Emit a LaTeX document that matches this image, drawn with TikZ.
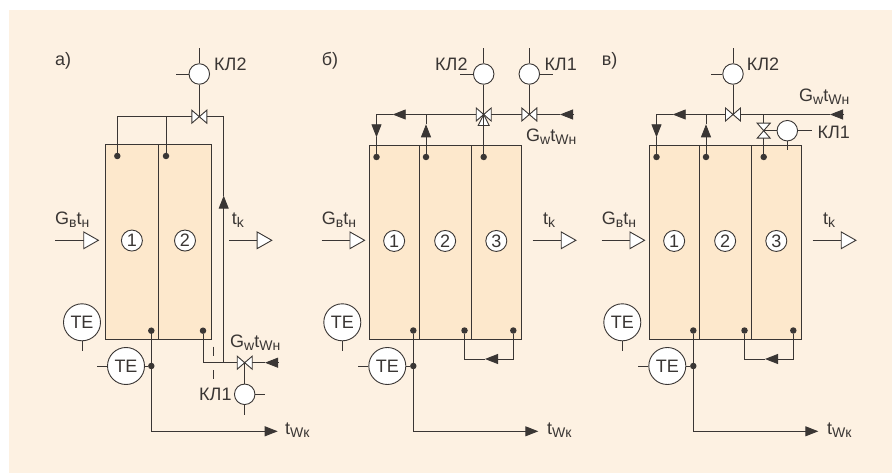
\documentclass[tikz,border=0pt]{standalone}
\usepackage{fontspec}
\setmainfont{Liberation Sans}
\usetikzlibrary{arrows.meta,positioning}
\definecolor{paper}{HTML}{FDF1E2}
\definecolor{cellfill}{HTML}{FDE8CC}
\definecolor{ink}{HTML}{3A3634}
\newcommand{\lowtext}[1]{\raisebox{-2.8pt}{\fontsize{14}{14}\selectfont #1}}
\tikzset{
 pics/valveh/.style={code={\draw[pipe,fill=white](-7.5,-6.5)--(7.5,6.5)--(7.5,-6.5)--(-7.5,6.5)--cycle;}},
 pics/valvev/.style={code={\draw[pipe,fill=white](-6.5,-7.5)--(6.5,7.5)--(-6.5,7.5)--(6.5,-7.5)--cycle;}},
 pics/valvet/.style={code={\draw[pipe,fill=white](0,0)--(5.5,11)--(-5.5,11)--cycle;}}}
\begin{document}
\begin{tikzpicture}[x=1pt,y=-1pt,font=\fontsize{18}{20}\selectfont,text=ink,
 pipe/.style={draw=ink,line width=0.9pt},
 flow/.style={pipe,-{Triangle[length=13pt,width=10pt,fill=ink]}},
 hollow/.style={pipe,-{Triangle[open,length=16pt,width=18pt,fill=white]}},
 cell/.style={draw=ink,line width=0.9pt,fill=cellfill,minimum height=194.5pt,anchor=north west,inner sep=0,outer sep=0},
 num/.style={draw=ink,line width=0.9pt,fill=white,circle,minimum size=21pt,inner sep=0,font=\fontsize{18}{18}\selectfont},
 gauge/.style={draw=ink,line width=0.9pt,fill=white,circle,minimum size=37pt,inner sep=0},
 drive/.style={draw=ink,line width=0.9pt,fill=white,circle,minimum size=20.5pt,inner sep=0},
 dot/.style={fill=ink,circle,minimum size=6.5pt,inner sep=0},
 lbl/.style={anchor=base west,inner sep=0}]
\useasboundingbox (0,0) rectangle (892,473);
\fill[paper] (9,10.5) rectangle (892,473);
% a
\node[lbl] (atitle) at (55,65.5) {а)};
\node[cell,minimum width=52.8pt] (a1) at (105.5,144.8) {};
\node[cell,minimum width=53.4pt,right=0pt of a1] (a2) {};
\node[num] (an1) at ([yshift=1.5pt]a1.center) {1};
\node[num] (an2) at ([yshift=1.5pt]a2.center) {2};
\node[dot] (ad1) at (117.3,156) {};
\node[dot] (ad2) at (166,156) {};
\node[dot] (ad3) at (151.3,330.7) {};
\node[dot] (ad4) at (203,330.7) {};
\node[dot] (ad5) at (151.3,366) {};
\coordinate (avt) at (199.3,116.7);
\coordinate (avb) at (244.7,362.7);
\coordinate (acr) at (223.7,116.7);
\coordinate (ajn) at (223.7,362.7);
\coordinate (atp) at (223.7,195.7);
\coordinate (atl) at (278.3,362.7);
\coordinate (atr) at (265,362.7);
\coordinate (aou) at (277.7,431.3);
\draw[pipe] (ad1)|-(avt);\draw[pipe] (ad2)|-(avt);
\draw[pipe] (avt)--(acr)--(atp);\draw[flow] (ajn)--(atp);
\draw[pipe] (ad4)|-(avb);\draw[pipe] (avb)--(atr);\draw[flow] (atl)--(atr);
\draw[flow] (ad3)|-(aou);
\pic at (avt) {valveh};\pic at (avb) {valveh};
\node[drive] (ak2) at (199.3,74) {};
\node[drive] (ak1) at (244.7,394.3) {};
\draw[pipe] (ak2)--(avt);\draw[pipe] (ak1)--(avb);
\draw[pipe] (ak2.north)--++(0,-15);\draw[pipe] (ak2.west)--++(-13,0);
\draw[pipe] (ak1.south)--++(0,9.5);\draw[pipe] (ak1.east)--++(10,0);
\node[lbl] (ak2t) at (214,71) {КЛ2};
\node[lbl] (ak1t) at (199,400) {КЛ1};
\coordinate (ada) at (213.3,346.7);\coordinate (adb) at (213.3,379);
\draw[pipe,dash pattern=on 9pt off 14.3pt] (ada)--(adb);
\node[gauge] (ate1) at (82,322.3) {TE};
\node[gauge] (ate2) at (126,366) {TE};
\draw[pipe] (ate1.south)--++(0,10);
\draw[pipe] (ate2.west)--++(-10,0);\draw[pipe] (ate2)--(ad5);
\coordinate (ain) at (55,240.3);\coordinate (aiu) at (99.3,240.3);
\coordinate (aot) at (229,240.3);\coordinate (aop) at (272.7,240.3);
\draw[hollow] (ain)--(aiu);\draw[hollow] (aot)--(aop);
\node[lbl] (agb) at (55,224.3) {G\lowtext{в}t\lowtext{н}};
\node[lbl] (atk) at (231.7,225) {t\lowtext{k}};
\node[lbl] (agw) at (230,347.7) {G\lowtext{w}t\lowtext{Wн}};
\node[lbl] (atw) at (285,434.5) {t\lowtext{Wк}};
% b and c
\foreach \p/\dx/\name in {b/0/б,c/280/в}{
\begin{scope}[xshift=\dx pt]
\node[lbl] (\p-title) at (321.7,65.5) {\name)};
\node[cell,minimum width=49.7pt] (\p1) at (369.3,145) {};
\node[cell,minimum width=52.3pt,right=0pt of \p1] (\p2) {};
\node[cell,minimum width=50pt,right=0pt of \p2] (\p3) {};
\node[num] (\p-n1) at ([yshift=1.3pt]\p1.center) {1};
\node[num] (\p-n2) at ([yshift=1.3pt]\p2.center) {2};
\node[num] (\p-n3) at ([yshift=1.3pt]\p3.center) {3};
\node[dot] (\p-d1) at (376.5,157) {};
\node[dot] (\p-d2) at (426,157) {};
\node[dot] (\p-d3) at (483.7,157) {};
\node[dot] (\p-d4) at (413.3,330.5) {};
\node[dot] (\p-d5) at (464.5,330.5) {};
\node[dot] (\p-d6) at (513.3,330.5) {};
\node[dot] (\p-d7) at (413.3,366) {};
\coordinate (\p-top) at (376.5,114.5);
\coordinate (\p-jn) at (426,114.5);
\coordinate (\p-ta) at (392.7,114.5);
\coordinate (\p-tb) at (405.7,114.5);
\coordinate (\p-da) at (376.5,124.3);
\coordinate (\p-db) at (376.5,137.3);
\coordinate (\p-ua) at (426,137.3);
\coordinate (\p-ub) at (426,124.3);
\coordinate (\p-ra) at (513.3,359);
\coordinate (\p-rb) at (464.5,359);
\coordinate (\p-rc) at (498,359);
\coordinate (\p-rd) at (485,359);
\coordinate (\p-ou) at (538.3,431.3);
\draw[flow] (\p-tb)--(\p-ta);\draw[pipe] (\p-ta)--(\p-top)--(\p-da);\draw[flow] (\p-da)--(\p-db);
\draw[pipe] (\p-db)--(\p-d1);
\draw[flow] (\p-d2)--(\p-ub);\draw[pipe] (\p-ub)--(\p-jn);
\draw[pipe] (\p-d6)--(\p-ra)--(\p-rc);\draw[flow] (\p-rc)--(\p-rd);\draw[pipe] (\p-rd)--(\p-rb)--(\p-d5);
\draw[flow] (\p-d4)|-(\p-ou);
\node[gauge] (\p-te1) at (342.3,322.3) {TE};
\node[gauge] (\p-te2) at (387.3,366) {TE};
\draw[pipe] (\p-te1.south)--++(0,10);
\draw[pipe] (\p-te2.west)--++(-10.5,0);\draw[pipe] (\p-te2)--(\p-d7);
\coordinate (\p-in) at (321.7,240.3);\coordinate (\p-iu) at (365.5,240.3);
\coordinate (\p-ot) at (532.5,240.3);\coordinate (\p-op) at (576.8,240.3);
\draw[hollow] (\p-in)--(\p-iu);\draw[hollow] (\p-ot)--(\p-op);
\node[lbl] (\p-gb) at (321.7,224.3) {G\lowtext{в}t\lowtext{н}};
\node[lbl] (\p-tk) at (543,225) {t\lowtext{k}};
\node[lbl] (\p-tw) at (547,434.3) {t\lowtext{Wк}};
\end{scope}}
% top of b
\coordinate (bv) at (483.7,114.5);
\coordinate (bw) at (529.3,114.5);
\coordinate (bta) at (560,114.5);
\coordinate (btb) at (574,114.5);
\draw[pipe] (b-tb)--(bta);\draw[flow] (btb)--(bta);
\pic at (bv) {valveh};\pic at (bv) {valvet};\pic at (bw) {valveh};
\node[drive] (bk2) at (483.7,74) {};
\node[drive] (bk1) at (529.3,74) {};
\draw[pipe] (bk2)--(b-d3);\draw[pipe] (bk1)--(bw);
\draw[pipe] (bk2.north)--++(0,-15);\draw[pipe] (bk2.west)--++(-13,0);
\draw[pipe] (bk1.north)--++(0,-15);\draw[pipe] (bk1.east)--++(13,0);
\node[lbl] (bk2t) at (435,70.5) {КЛ2};
\node[lbl] (bk1t) at (544.3,70.5) {КЛ1};
\node[lbl] (bgw) at (526,141.5) {G\lowtext{w}t\lowtext{Wн}};
% top of c
\coordinate (cv) at (733,114.5);
\coordinate (cw) at (763.7,114.5);
\coordinate (cx) at (763.7,130.7);
\coordinate (cta) at (830,114.5);
\coordinate (ctb) at (844,114.5);
\draw[pipe] (c-tb)--(cta);\draw[flow] (ctb)--(cta);
\draw[pipe] (cw)--(c-d3);
\pic at (cv) {valveh};\pic at (cx) {valvev};
\node[drive] (ck2) at (733,74) {};
\node[drive] (ck1) at (787.3,130.7) {};
\draw[pipe] (ck2)--(cv);\draw[pipe] (ck1)--(cx);
\draw[pipe] (ck2.north)--++(0,-15);\draw[pipe] (ck2.west)--++(-11,0);
\draw[pipe] (ck1.east)--++(13.5,0);\draw[pipe] (ck1.south)--++(0,8.5);
\node[lbl] (ck2t) at (746.7,71) {КЛ2};
\node[lbl] (ck1t) at (817.3,138.3) {КЛ1};
\node[lbl] (cgw) at (799,101.7) {G\lowtext{w}t\lowtext{Wн}};
\end{tikzpicture}
\end{document}
